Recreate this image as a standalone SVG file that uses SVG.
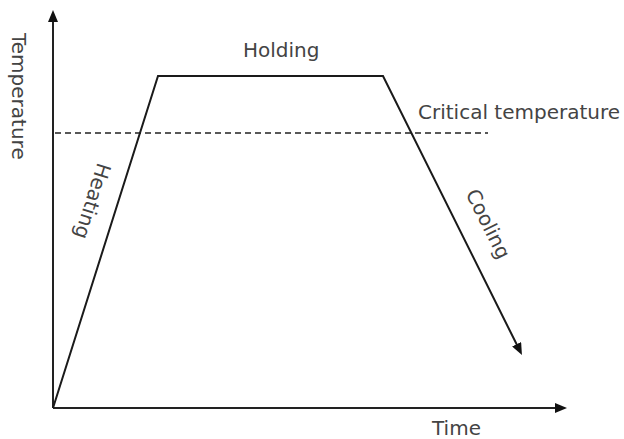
<svg xmlns="http://www.w3.org/2000/svg" width="624" height="439" viewBox="0 0 624 439">
<style>
.lbl{font-family:"DejaVu Sans","Liberation Sans",sans-serif;font-size:20px;fill:#444}
.ax{stroke:#222;stroke-width:2;fill:none}
.curve{stroke:#1a1a1a;stroke-width:2;fill:none;stroke-linejoin:miter}
.dash{stroke:#222;stroke-width:1.5;stroke-dasharray:6 4;fill:none}
</style>
<defs>
<marker id="arr" viewBox="0 0 12 10" refX="4" refY="5" markerWidth="12" markerHeight="10" orient="auto" markerUnits="userSpaceOnUse">
<path d="M0,0 L12,5 L0,10 Z" fill="#111"/>
</marker>
</defs>
<rect width="624" height="439" fill="#fff"/>
<g id="connectors">
<line id="y-axis" class="ax" x1="53" y1="408" x2="53" y2="18" marker-end="url(#arr)"/>
<line id="x-axis" class="ax" x1="53" y1="408" x2="559" y2="408" stroke="#3a3a3a" marker-end="url(#arr)"/>
<line id="critical-line" class="dash" x1="55" y1="133" x2="488" y2="133"/>
<polyline id="profile" class="curve" points="53,408 158,76 383,76 518.4,347.8" marker-end="url(#arr)"/>
</g>
<g id="label-temperature"><text class="lbl" transform="translate(12,33) rotate(90)" font-size="19">Temperature</text></g>
<g id="label-time"><text class="lbl" x="432" y="435">Time</text></g>
<g id="label-holding"><text class="lbl" x="243" y="57">Holding</text></g>
<g id="label-critical"><text class="lbl" x="418" y="119">Critical temperature</text></g>
<g id="label-heating"><text class="lbl" text-anchor="middle" transform="translate(86,199) rotate(107.5)">Heating</text></g>
<g id="label-cooling"><text class="lbl" text-anchor="middle" transform="translate(482,227) rotate(63.4)">Cooling</text></g>
</svg>
